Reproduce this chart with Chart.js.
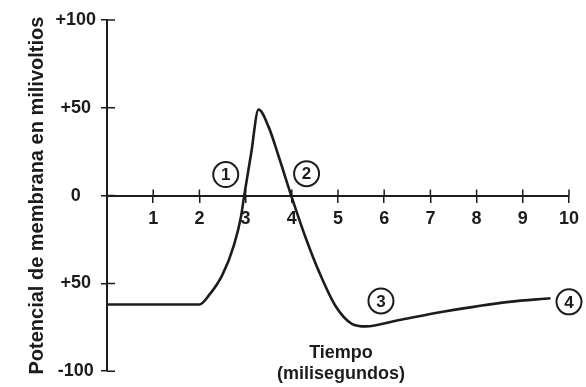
<!DOCTYPE html>
<html><head><meta charset="utf-8">
<script src="https://cdn.jsdelivr.net/npm/chart.js@4/dist/chart.umd.min.js"></script>
<style>html,body{margin:0;padding:0;background:#fff}#wrap{width:586px;height:387px}</style>
</head><body><div id="wrap"><canvas id="c" width="586" height="387"></canvas></div>
<script>
// Data
const timeMs = [0, 2, 2.2, 2.5, 2.75, 2.9, 2.97, 3.12, 3.28, 3.5, 3.72, 4.0, 4.3, 4.6, 4.95, 5.3, 5.6, 6.3, 7.3, 8.7, 9.6];
const potentialMv = [-62, -62, -57, -45, -28, -12, 0, 24, 49, 39, 22, -1, -24, -44, -63, -73, -74.5, -71, -66, -60.5, -58.5];
const xTickValues = [1, 2, 3, 4, 5, 6, 7, 8, 9, 10];
const yTickValues = [-100, -50, 0, 50, 100];
const yTickLabels = ['-100', '+50', '0', '+50', '+100'];
const markerLabels = ['1', '2', '3', '4'];
const markerX = [2.57, 4.32, 5.93, 10];
const markerY = [12, 12.5, -60, -60.5];
const xTitleLines = ['Tiempo', '(milisegundos)'];
const yTitle = 'Potencial de membrana en milivoltios';

const ink = '#1c1c1c';
const fam = '"Liberation Sans", Arial, sans-serif';
Chart.defaults.font.family = fam;
Chart.defaults.color = ink;

const extras = {
  id: 'extras',
  afterDatasetsDraw(chart) {
    const {ctx, scales: {x, y}, chartArea} = chart;
    ctx.save();
    ctx.strokeStyle = ink;
    ctx.lineWidth = 1.5;
    const y0 = y.getPixelForValue(0);
    const x0 = x.getPixelForValue(0);
    ctx.beginPath();
    xTickValues.forEach(v => { const px = x.getPixelForValue(v); ctx.moveTo(px, y0 - 6); ctx.lineTo(px, y0); });
    yTickValues.forEach(v => { const py = y.getPixelForValue(v); ctx.moveTo(x0, py); ctx.lineTo(x0 + 8, py); });
    ctx.stroke();
    // circled labels
    ctx.font = 'bold 17px ' + fam;
    ctx.textAlign = 'center';
    ctx.textBaseline = 'middle';
    markerLabels.forEach((t, i) => {
      const px = x.getPixelForValue(markerX[i]);
      const py = y.getPixelForValue(markerY[i]);
      ctx.beginPath();
      ctx.arc(px, py, 12.5, 0, Math.PI * 2);
      ctx.fillStyle = '#fff';
      ctx.fill();
      ctx.lineWidth = 2;
      ctx.stroke();
      ctx.fillStyle = ink;
      ctx.fillText(t, px, py + 1);
    });
    // x title
    ctx.font = 'bold 18px ' + fam;
    const cx = (chartArea.left + chartArea.right) / 2 + 3;
    ctx.fillText(xTitleLines[0], cx, chartArea.bottom - 18);
    ctx.fillText(xTitleLines[1], cx, chartArea.bottom + 3);
    ctx.restore();
  }
};

new Chart(document.getElementById('c'), {
  type: 'line',
  data: {
    datasets: [{
      data: timeMs.map((t, i) => ({x: t, y: potentialMv[i]})),
      borderColor: ink,
      borderWidth: 2.6,
      pointRadius: 0,
      fill: false,
      cubicInterpolationMode: 'monotone'
    }]
  },
  options: {
    responsive: false,
    animation: false,
    devicePixelRatio: 1,
    layout: {padding: {top: 20, bottom: 14, right: 13, left: 19}},
    plugins: {legend: {display: false}, tooltip: {enabled: false}},
    scales: {
      x: {
        type: 'linear',
        position: {y: 0},
        min: 0, max: 10,
        afterBuildTicks: s => { s.ticks = xTickValues.map(v => ({value: v})); },
        ticks: {font: {size: 18, weight: 'bold'}, padding: 7, maxRotation: 0, autoSkip: false},
        grid: {drawOnChartArea: false, tickLength: 6, color: ink, lineWidth: 1.5},
        border: {color: ink, width: 2}
      },
      y: {
        type: 'linear',
        position: 'left',
        min: -100, max: 100,
        afterBuildTicks: s => { s.ticks = yTickValues.map(v => ({value: v})); },
        afterFit: s => { s.width = 88; },
        ticks: {
          font: {size: 18, weight: 'bold'}, padding: 5, crossAlign: 'center',
          callback: v => yTickLabels[yTickValues.indexOf(v)]
        },
        title: {display: true, text: yTitle, font: {size: 20, weight: 'bold'}, padding: {top: 6, bottom: 2}},
        grid: {drawOnChartArea: false, tickLength: 6, color: ink, lineWidth: 1.5},
        border: {color: ink, width: 2}
      }
    }
  },
  plugins: [extras]
});
</script>
</body></html>
